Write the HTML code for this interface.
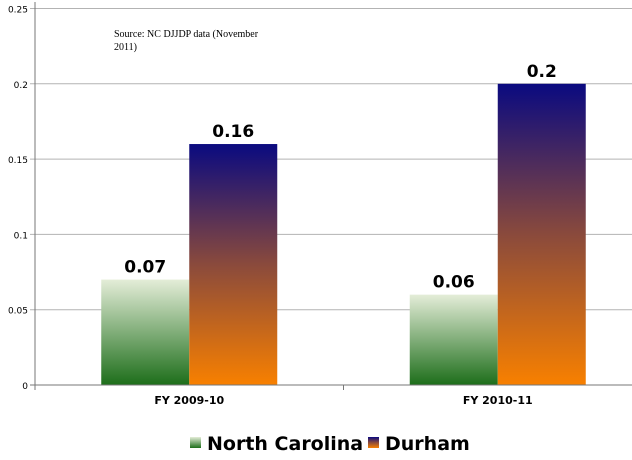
<!DOCTYPE html>
<html><head><meta charset="utf-8"><style>
body{margin:0;background:#fff;}
svg{display:block;font-family:"DejaVu Sans","Liberation Sans",sans-serif;}
</style></head><body>
<svg id="chart" width="632" height="460">
<defs>
<linearGradient id="gNC" x1="0" y1="0" x2="0" y2="1"><stop offset="0" stop-color="#e4edd8"/><stop offset="1" stop-color="#1d6e1a"/></linearGradient>
<linearGradient id="gDU" x1="0" y1="0" x2="0" y2="1"><stop offset="0" stop-color="#0a0a80"/><stop offset="0.5" stop-color="#8a4a3c"/><stop offset="1" stop-color="#f88000"/></linearGradient>
</defs>
<g id="grid"></g><g id="bars"></g><g id="axes"></g>
<text x="114" y="37" font-family="Liberation Serif,serif" font-size="10" fill="#000">Source: NC DJJDP data (November</text>
<text x="114" y="50" font-family="Liberation Serif,serif" font-size="10" fill="#000">2011)</text>
<g>
<rect x="190" y="437" width="11" height="11" fill="url(#gNC)"/>
<text x="207" y="450" font-size="19" font-weight="bold">North Carolina</text>
<rect x="368" y="437" width="11" height="11" fill="url(#gDU)"/>
<text x="385" y="450" font-size="19" font-weight="bold">Durham</text>
</g>
</svg>
<script>
const categories=["FY 2009-10","FY 2010-11"];
const ncValues=[0.07,0.06];
const durhamValues=[0.16,0.2];
const valueLabels=[["0.07","0.16"],["0.06","0.2"]];
const yTicks=[0,0.05,0.1,0.15,0.2,0.25];
const yTickLabels=["0","0.05","0.1","0.15","0.2","0.25"];
const NS="http://www.w3.org/2000/svg";
const X0=35,X1=652,Y0=385,Y1=8.5,yMax=0.25;
const y=v=>Y0-(v/yMax)*(Y0-Y1);
const catW=(X1-X0)/categories.length;
const cx=i=>X0+catW*(i+0.5);
function mk(t,a,p){const e=document.createElementNS(NS,t);for(const k in a)e.setAttribute(k,a[k]);p.appendChild(e);return e;}
const grid=document.getElementById('grid'),bars=document.getElementById('bars'),axes=document.getElementById('axes');
yTicks.forEach((v,i)=>{
 const l=mk('line',{x1:X0-5,x2:632,y1:y(v),y2:y(v),stroke:'#b3b3b3','stroke-width':1},grid);
 
 
 const t=mk('text',{x:28,y:y(v)+4,'text-anchor':'end','font-size':9,fill:'#000'},axes);
 t.textContent=yTickLabels[i];
 
 
});
const bw=88;
categories.forEach((c,i)=>{
 const series=[[ncValues[i],'url(#gNC)',-bw],[durhamValues[i],'url(#gDU)',0]];
 series.forEach((s,j)=>{
  const r=mk('rect',{x:cx(i)+s[2],y:y(s[0]),width:bw,height:Y0-y(s[0]),fill:s[1]},bars);
  
  
  const t=mk('text',{x:cx(i)+s[2]+bw/2,y:y(s[0])-7,'text-anchor':'middle','font-size':17,'font-weight':'bold'},bars);
  t.textContent=valueLabels[i][j];
  
  
 });
 const t=mk('text',{x:cx(i),y:404,'text-anchor':'middle','font-size':11,'font-weight':'bold'},axes);
 t.textContent=c;
 
 
 if(i>0){const tk=mk('line',{x1:X0+catW*i,x2:X0+catW*i,y1:Y0,y2:Y0+5,stroke:'#777'},axes);
 
 }
});
const ax=mk('line',{x1:X0,x2:X0,y1:2,y2:Y0+5,stroke:'#777'},axes);


const bx=mk('line',{x1:X0-5,x2:632,y1:Y0,y2:Y0,stroke:'#777'},axes);


</script>
</body></html>
